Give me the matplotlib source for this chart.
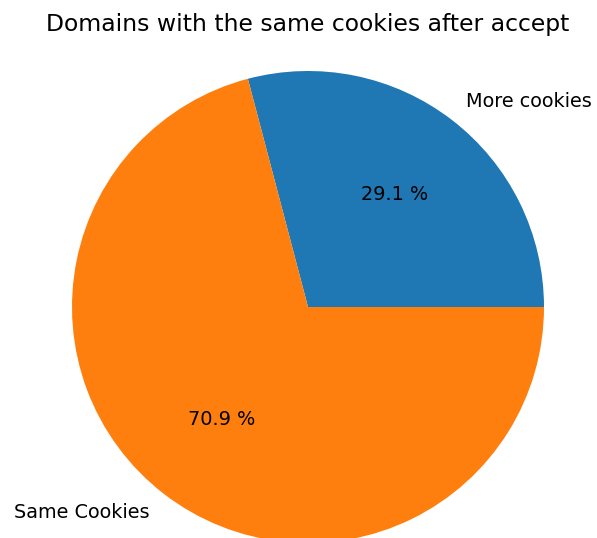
import matplotlib
matplotlib.use("Agg")
import matplotlib.pyplot as plt

labels = ["More cookies", "Same Cookies"]
shares = [29.1, 70.9]

W, H, DPI = 597, 538, 125
fig = plt.figure(figsize=(W / DPI, H / DPI), dpi=DPI)

# pie centre and radius in pixels
cx, cy, r = 308, 307, 236
ax = fig.add_axes([(cx - r) / W, (H - cy - r) / H, 2 * r / W, 2 * r / H])
ax.pie(shares, labels=labels, autopct="%.1f %%", textprops={"fontsize": 11.1})
ax.set_xlim(-1, 1)
ax.set_ylim(-1, 1)
for p in ax.patches:
    p.set_clip_on(False)

fig.text(cx / W, 1 - 25 / H, "Domains with the same cookies after accept",
         ha="center", va="center", fontsize=13.5)

fig.savefig("out.png", dpi=DPI)
